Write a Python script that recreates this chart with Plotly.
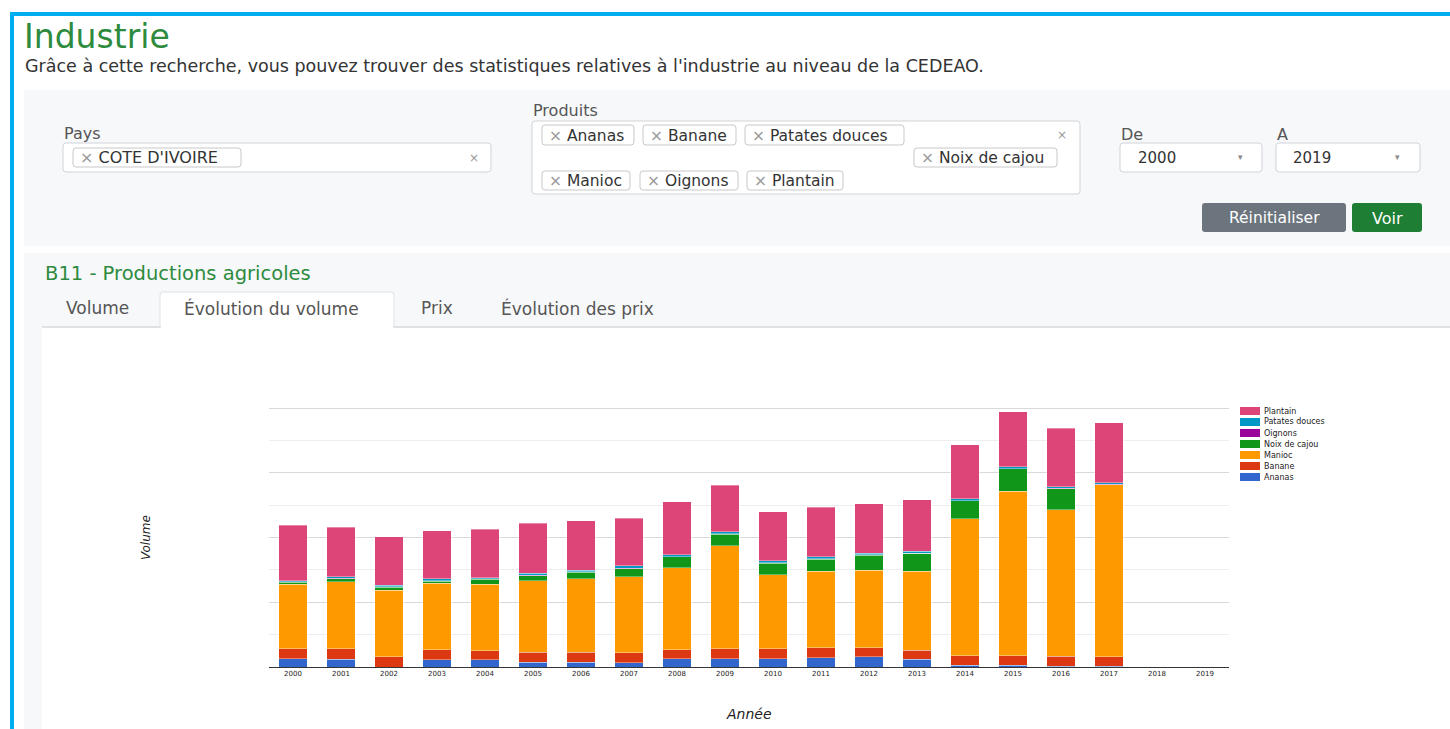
import plotly.graph_objects as go

# ---------------- data (millions of tonnes) ----------------
annees = ["2000", "2001", "2002", "2003", "2004", "2005", "2006", "2007", "2008", "2009",
          "2010", "2011", "2012", "2013", "2014", "2015", "2016", "2017", "2018", "2019"]
ananas = [0.26, 0.24, 0.00, 0.23, 0.23, 0.15, 0.15, 0.13, 0.26, 0.26,
          0.26, 0.28, 0.31, 0.24, 0.05, 0.05, 0.03, 0.02, 0, 0]
banane = [0.31, 0.33, 0.31, 0.31, 0.27, 0.31, 0.31, 0.31, 0.28, 0.31,
          0.31, 0.31, 0.28, 0.28, 0.29, 0.29, 0.30, 0.29, 0, 0]
manioc = [1.98, 2.06, 2.06, 2.04, 2.06, 2.21, 2.26, 2.34, 2.52, 3.17,
          2.28, 2.37, 2.40, 2.44, 4.24, 5.09, 4.53, 5.32, 0, 0]
noix_de_cajou = [0.07, 0.10, 0.10, 0.07, 0.15, 0.15, 0.21, 0.26, 0.34, 0.36,
                 0.36, 0.37, 0.46, 0.55, 0.55, 0.69, 0.65, 0.00, 0, 0]
oignons = [0.01, 0.01, 0.01, 0.01, 0.01, 0.01, 0.01, 0.01, 0.01, 0.01,
           0.01, 0.01, 0.01, 0.01, 0.01, 0.01, 0.01, 0.01, 0, 0]
patates_douces = [0.04, 0.04, 0.05, 0.06, 0.04, 0.07, 0.05, 0.07, 0.05, 0.06,
                  0.06, 0.06, 0.05, 0.05, 0.06, 0.05, 0.05, 0.05, 0, 0]
plantain = [1.71, 1.54, 1.49, 1.49, 1.49, 1.54, 1.52, 1.47, 1.65, 1.45,
            1.51, 1.53, 1.54, 1.60, 1.66, 1.70, 1.80, 1.85, 0, 0]

series_noms = ["Ananas", "Banane", "Manioc", "Noix de cajou", "Oignons", "Patates douces", "Plantain"]
series_vals = [ananas, banane, manioc, noix_de_cajou, oignons, patates_douces, plantain]
couleurs = ["#3366cc", "#dc3912", "#ff9900", "#109618", "#990099", "#0099c6", "#dd4477"]

produits_tags = ["Ananas", "Banane", "Patates douces", "Noix de cajou", "Manioc", "Oignons", "Plantain"]

# ---------------- page geometry helpers ----------------
W, H = 1450, 729
FONT = "DejaVu Sans, Liberation Sans, Arial, sans-serif"
GREEN = "#2e8b3e"


def fx(x):
    return x / W


def fy(y):
    return 1 - y / H


shapes = []
annotations = []


def rect(x0, y0, x1, y1, fill, line=None, lw=1, r=0):
    lc = line if line else "rgba(0,0,0,0)"
    lwid = lw if line else 0
    if r <= 0:
        shapes.append(dict(type="rect", xref="paper", yref="paper", layer="below",
                           x0=fx(x0), x1=fx(x1), y0=fy(y0), y1=fy(y1),
                           fillcolor=fill, line=dict(color=lc, width=lwid)))
        return

    def p(x, y):
        return f"{fx(x):.5f},{fy(y):.5f}"
    path = (f"M{p(x0 + r, y0)} L{p(x1 - r, y0)} Q{p(x1, y0)} {p(x1, y0 + r)} "
            f"L{p(x1, y1 - r)} Q{p(x1, y1)} {p(x1 - r, y1)} L{p(x0 + r, y1)} "
            f"Q{p(x0, y1)} {p(x0, y1 - r)} L{p(x0, y0 + r)} Q{p(x0, y0)} {p(x0 + r, y0)} Z")
    shapes.append(dict(type="path", xref="paper", yref="paper", layer="below", path=path,
                       fillcolor=fill, line=dict(color=lc, width=lwid)))


def text(x, y, s, size=14, color="#444", anchor="left", family=FONT):
    annotations.append(dict(xref="paper", yref="paper", x=fx(x), y=fy(y), text=s,
                            showarrow=False, xanchor=anchor, yanchor="middle",
                            font=dict(size=size, color=color, family=family),
                            borderpad=0))


X = "<span style='color:#999'>×</span> "

# ---------------- page chrome ----------------
rect(10, 12, 1450, 16, "#00aeef")          # top cyan border
rect(10, 12, 14, 729, "#00aeef")           # left cyan border

text(23, 36, "Industrie", 33, GREEN)
text(24, 66, "Grâce à cette recherche, vous pouvez trouver des statistiques relatives à "
             "l'industrie au niveau de la CEDEAO.", 17.5, "#333")

# filter panel
rect(24, 90, 1450, 246, "#f7f8fa")
text(63, 133, "Pays", 16, "#555")
rect(63, 143, 491, 172, "#ffffff", "#cfd4d9", 1, 3)
rect(73, 148, 241, 167, "#ffffff", "#c8c8c8", 1, 3)
text(79, 157.5, X + "COTE D'IVOIRE", 16, "#333")
text(474, 158, "×", 12, "#999", "center")

text(532, 111, "Produits", 16, "#555")
rect(532, 121, 1080, 194, "#ffffff", "#cfd4d9", 1, 3)
tag_boxes = [(542, 125, 634, 145), (643, 125, 736, 145), (745, 125, 904, 145),
             (914, 148, 1057, 167), (542, 171, 630, 190), (640, 171, 738, 190),
             (747, 171, 843, 190)]
for nom, (a, b, c, d) in zip(produits_tags, tag_boxes):
    rect(a, b, c, d, "#ffffff", "#c8c8c8", 1, 3)
    text(a + 6, (b + d) / 2 + 0.5, X + nom, 15.5, "#333")
text(1062, 135, "×", 12, "#999", "center")

text(1120, 135, "De", 16, "#555")
rect(1120, 143, 1262, 172, "#ffffff", "#cfd4d9", 1, 3)
text(1137, 158, "2000", 15, "#333")
text(1240, 157, "▾", 9, "#888", "center")
text(1276, 135, "A", 16, "#555")
rect(1276, 143, 1420, 172, "#ffffff", "#cfd4d9", 1, 3)
text(1292, 158, "2019", 15, "#333")
text(1397, 157, "▾", 9, "#888", "center")

rect(1202, 203, 1346, 232, "#6c757d", None, 0, 3)
text(1274, 218, "Réinitialiser", 15.5, "#ffffff", "center")
rect(1352, 203, 1422, 232, "#1e7e34", None, 0, 3)
text(1387, 218, "Voir", 16, "#ffffff", "center")

# chart panel
rect(24, 253, 1450, 729, "#f7f8fa")
text(44, 274, "B11 - Productions agricoles", 19.5, GREEN)
rect(42, 327, 1450, 729, "#ffffff")
shapes.append(dict(type="line", xref="paper", yref="paper", layer="below",
                   x0=fx(42), x1=fx(1450), y0=fy(327), y1=fy(327),
                   line=dict(color="#d6d9dc", width=1.5)))
rect(160, 292, 394, 328.5, "#ffffff", "#dee2e6", 1, 3)
rect(161, 326, 393, 330, "#ffffff")
text(65, 308, "Volume", 17, "#555")
text(183, 308, "Évolution du volume", 17, "#555")
text(420, 308, "Prix", 17, "#555")
text(500, 308, "Évolution des prix", 17, "#555")

# manual compact legend (Google-Charts style)
for i, (nom, col) in enumerate(zip(series_noms[::-1], couleurs[::-1])):
    yc = 411 + i * 11
    rect(1240, yc - 4, 1260, yc + 4, col)
    text(1263, yc, nom, 8, "#222")

# axis titles
text(146, 538, "<i>Volume</i>", 12, "#222", "center")
annotations[-1]["textangle"] = -90
text(749, 714, "<i>Année</i>", 14, "#222", "center")

# ---------------- chart ----------------
fig = go.Figure()
for nom, vals, col in zip(series_noms, series_vals, couleurs):
    fig.add_trace(go.Bar(name=nom, x=annees, y=vals,
                         marker=dict(color=col, line=dict(color="rgba(255,255,255,0.6)", width=0.6)),
                         width=0.6, showlegend=False))

# 8 units span 667 -> 408 px (32.375 px per unit); range extended to 8.3 so the top grid line is kept
fig.update_layout(
    width=W, height=H, autosize=False,
    margin=dict(l=0, r=0, t=0, b=0),
    paper_bgcolor="#ffffff", plot_bgcolor="#ffffff",
    barmode="stack",
    font=dict(family=FONT, color="#222"),
    shapes=shapes, annotations=annotations,
    xaxis=dict(domain=[fx(269), fx(1229)], type="category", range=[-0.5, 19.5],
               showgrid=False, showline=True, linecolor="#333", linewidth=1,
               ticks="", tickfont=dict(size=7, color="#222"), fixedrange=True,
               automargin=False),
    yaxis=dict(domain=[fy(667), fy(398.3)], range=[0, 8.3], dtick=2, tick0=0, showgrid=True,
               gridcolor="#d9d9d9", gridwidth=1, showticklabels=False, zeroline=False,
               minor=dict(dtick=1, tick0=0, showgrid=True, gridcolor="#eeeeee", gridwidth=1),
               fixedrange=True, automargin=False),
)

fig.write_html("out.html", config={"displayModeBar": False},
               post_script="document.body.style.margin='0';document.body.style.overflow='hidden';")
